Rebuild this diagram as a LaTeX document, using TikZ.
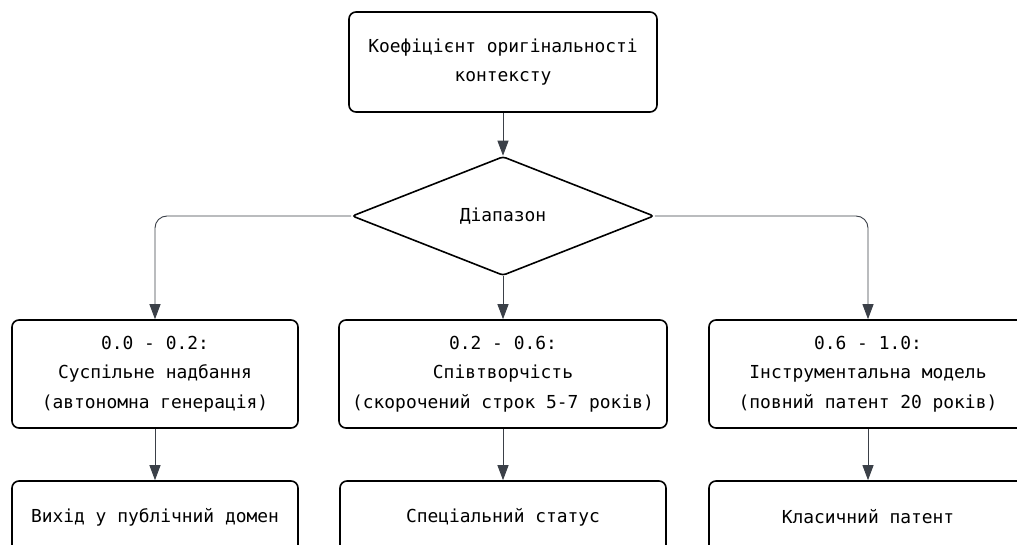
\documentclass[tikz,border=0pt]{standalone}
\usepackage{fontspec}
\setmonofont{DejaVu Sans Mono}
\usepackage{tikz}
\usetikzlibrary{shapes.geometric, arrows.meta}
\definecolor{edgegray}{HTML}{3B4048}

\begin{document}
\begin{tikzpicture}[x=1pt, y=-1pt,
  box/.style={draw, line width=1.6pt, rounded corners=7pt, align=center, inner sep=0pt,
    font=\ttfamily\fontsize{17.9}{29.5}\selectfont},
  decide/.style={diamond, draw, line width=1.6pt, rounded corners=3pt, inner sep=0pt, aspect=2.54,
    minimum width=302pt, minimum height=119pt, font=\ttfamily\fontsize{17.9}{29.5}\selectfont},
  link/.style={draw=edgegray, line width=0.9pt, rounded corners=12pt,
    -{Triangle[length=15pt,width=11pt,fill=edgegray]}}]
\clip (0,0) rectangle (1017,545);
\node[box, minimum width=308pt, minimum height=100pt] (coef) at (503,62) {Коефіцієнт оригінальності\\контексту};
\node[decide] (range) at (503,216) {Діапазон};
\node[box, minimum width=286pt, minimum height=108pt] (low) at (155,374) {0.0 - 0.2:\\Суспільне надбання\\(автономна генерація)};
\node[box, minimum width=328pt, minimum height=108pt] (mid) at (503,374) {0.2 - 0.6:\\Співтворчість\\(скорочений строк 5-7 років)};
\node[box, minimum width=318pt, minimum height=108pt] (high) at (868,374) {0.6 - 1.0:\\Інструментальна модель\\(повний патент 20 років)};
\node[box, minimum width=286pt, minimum height=72pt] (public) at (155,517) {Вихід у публічний домен};
\node[box, minimum width=326pt, minimum height=72pt] (special) at (503,517) {Спеціальний статус};
\node[box, minimum width=318pt, minimum height=72pt] (classic) at (868,517) {Класичний патент};
\draw[link] (coef) -- (range);
\draw[link] (range.west) -| (low.north);
\draw[link] (range) -- (mid);
\draw[link] (range.east) -| (high.north);
\draw[link] (low) -- (public);
\draw[link] (mid) -- (special);
\draw[link] (high) -- (classic);
\end{tikzpicture}
\end{document}
